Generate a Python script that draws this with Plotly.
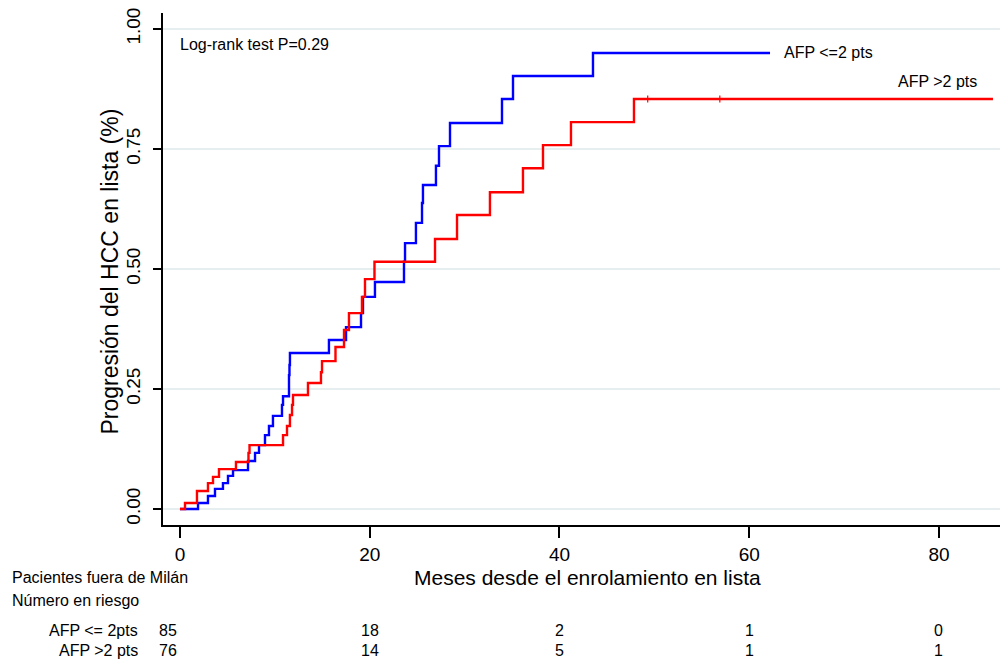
import plotly.graph_objects as go

# Kaplan-Meier cumulative progression, AFP score <= 2 points
months_afp_low = [0, 1.90, 2.95, 3.69, 4.53, 5.06, 5.59, 7.17, 7.91, 8.33,
                  8.96, 9.38, 9.80, 10.75, 10.86, 11.49, 11.54, 11.59, 15.70, 17.50,
                  19.08, 19.29, 20.55, 23.61, 23.72, 24.87, 25.51, 25.61, 26.98, 27.30,
                  28.46, 33.94, 35.10, 43.53, 62.19]
prog_afp_low = [0, 0.0125, 0.027, 0.042, 0.054, 0.069, 0.081, 0.100, 0.117, 0.133,
                0.154, 0.173, 0.194, 0.217, 0.235, 0.279, 0.300, 0.325, 0.352, 0.379,
                0.408, 0.442, 0.473, 0.515, 0.554, 0.596, 0.6375, 0.675, 0.715, 0.756,
                0.804, 0.854, 0.902, 0.950, 0.950]

# Kaplan-Meier cumulative progression, AFP score > 2 points
months_afp_high = [0, 0.53, 1.79, 2.95, 3.48, 4.11, 5.90, 7.22, 7.33, 10.86,
                   11.28, 11.59, 11.81, 11.91, 13.49, 14.86, 14.97, 16.39, 17.29, 17.81,
                   19.18, 19.50, 20.50, 26.88, 29.20, 32.67, 36.15, 38.26, 41.21, 47.85,
                   85.69]
prog_afp_high = [0, 0.0125, 0.0375, 0.054, 0.067, 0.083, 0.098, 0.117, 0.133, 0.154,
                 0.173, 0.196, 0.217, 0.2375, 0.2625, 0.285, 0.308, 0.3375, 0.373, 0.408,
                 0.442, 0.479, 0.515, 0.5625, 0.6125, 0.660, 0.710, 0.758, 0.806, 0.854,
                 0.854]

# censored observations on the AFP > 2 curve
censor_months_high = [49.3, 56.9]
censor_prog_high = [0.854, 0.854]

# number at risk
risk_months = [0, 20, 40, 60, 80]
risk_afp_low = [85, 18, 2, 1, 0]
risk_afp_high = [76, 14, 5, 1, 1]

x_ticks = [0, 20, 40, 60, 80]
y_ticks = [0, 0.25, 0.5, 0.75, 1.0]
y_tick_text = ["0.00", "0.25", "0.50", "0.75", "1.00"]

FONT = "Liberation Sans, Arial, Helvetica, sans-serif"
BLUE = "#0000ff"
RED = "#ff0000"
SMALL = dict(size=16, color="black", family=FONT)

fig = go.Figure()
fig.add_trace(go.Scatter(x=months_afp_low, y=prog_afp_low, mode="lines",
                         line=dict(color=BLUE, width=2.4, shape="hv"),
                         showlegend=False, hoverinfo="skip"))
fig.add_trace(go.Scatter(x=months_afp_high, y=prog_afp_high, mode="lines",
                         line=dict(color=RED, width=2.4, shape="hv"),
                         showlegend=False, hoverinfo="skip"))
fig.add_trace(go.Scatter(x=censor_months_high, y=censor_prog_high, mode="markers",
                         marker=dict(symbol="line-ns", size=5,
                                     line=dict(color=RED, width=1.2)),
                         showlegend=False, hoverinfo="skip"))

annotations = [
    dict(text="Log-rank test P=0.29", x=-0.2, y=0.939, xref="x", yref="paper",
         xanchor="left", yanchor="middle", showarrow=False, font=SMALL),
    dict(text="AFP &lt;=2 pts", x=63.45, y=prog_afp_low[-1], xref="x", yref="y",
         xanchor="left", yanchor="middle", showarrow=False, font=SMALL),
    dict(text="AFP &gt;2 pts", x=84.2, y=0.8896, xref="x", yref="y",
         xanchor="right", yanchor="middle", showarrow=False, font=SMALL),
    dict(text="Meses desde el enrolamiento en lista", x=0.5066, y=-0.1016,
         xref="paper", yref="paper", xanchor="center", yanchor="middle",
         showarrow=False, font=dict(size=21, color="black", family=FONT)),
    dict(text="Progresión del HCC en lista (%)", x=-0.0633, y=0.495,
         xref="paper", yref="paper", xanchor="center", yanchor="middle",
         textangle=-90, showarrow=False,
         font=dict(size=23, color="black", family=FONT)),
    dict(text="Pacientes fuera de Milán", x=-0.1828, y=-0.1016,
         xref="paper", yref="paper", xanchor="left", yanchor="middle",
         showarrow=False, font=SMALL),
    dict(text="Número en riesgo", x=-0.1828, y=-0.1484,
         xref="paper", yref="paper", xanchor="left", yanchor="middle",
         showarrow=False, font=SMALL),
    dict(text="AFP &lt;= 2pts", x=-0.0275, y=-0.207,
         xref="paper", yref="paper", xanchor="right", yanchor="middle",
         showarrow=False, font=SMALL),
    dict(text="AFP &gt;2 pts", x=-0.0275, y=-0.246,
         xref="paper", yref="paper", xanchor="right", yanchor="middle",
         showarrow=False, font=SMALL),
]
for i, (m, n_low, n_high) in enumerate(zip(risk_months, risk_afp_low, risk_afp_high)):
    shift = -12 if i == 0 else 0
    annotations.append(dict(text=str(n_low), x=m, y=-0.207, xref="x", yref="paper",
                            xanchor="center", yanchor="middle", showarrow=False,
                            xshift=shift, font=SMALL))
    annotations.append(dict(text=str(n_high), x=m, y=-0.246, xref="x", yref="paper",
                            xanchor="center", yanchor="middle", showarrow=False,
                            xshift=shift, font=SMALL))

fig.update_layout(
    width=1003, height=664,
    margin=dict(l=163, r=3, t=13, b=139),
    paper_bgcolor="white", plot_bgcolor="white",
    font=dict(family=FONT, color="black"),
    annotations=annotations,
    xaxis=dict(range=[-1.79, 86.43], tickvals=x_ticks, showgrid=False, zeroline=False,
               showline=True, linecolor="black", linewidth=1.5,
               ticks="outside", ticklen=11, tickwidth=1.5, tickcolor="black",
               tickfont=dict(size=19, color="black", family=FONT)),
    yaxis=dict(range=[-0.0333, 1.0333], tickvals=y_ticks, ticktext=y_tick_text,
               tickangle=-90, showgrid=True, gridcolor="#e6eef0", gridwidth=1.5,
               zeroline=False, showline=True, linecolor="black", linewidth=1.5,
               ticks="outside", ticklen=8, tickwidth=1.5, tickcolor="black",
               ticklabelstandoff=6,
               tickfont=dict(size=19, color="black", family=FONT)),
)

fig.write_html("out.html")
